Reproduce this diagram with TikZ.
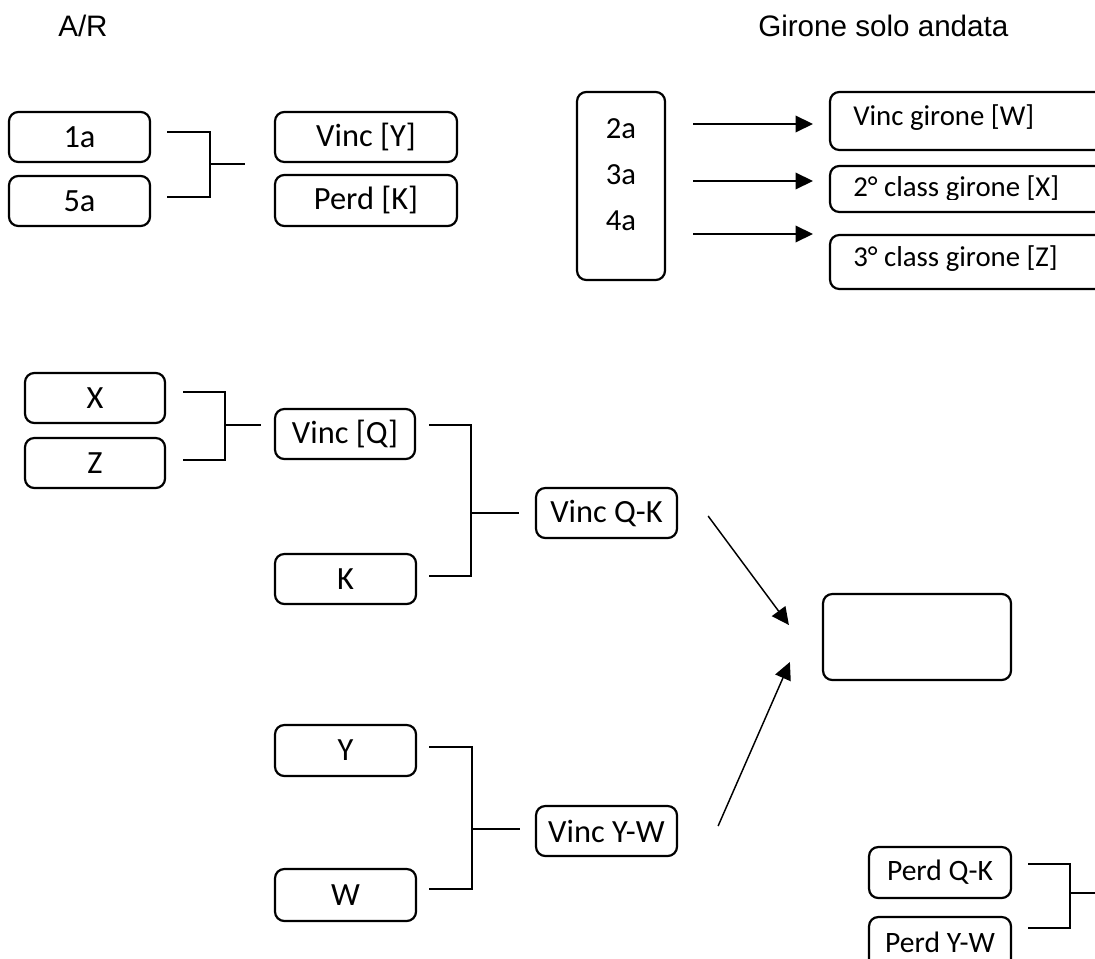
\documentclass[tikz,border=0pt]{standalone}
\usepackage{fontspec}
\setmainfont{Carlito}
\newfontfamily\hdrfont{Liberation Sans}
\usetikzlibrary{arrows.meta,calc}
\newcommand\bx[6]{\node[box, minimum width={(#4-#2)*0.75pt}, minimum height={(#5-#3)*0.75pt}] (#1) at ({(#2+#4)/2},{(#3+#5)/2}) {#6};}
\begin{document}
\begin{tikzpicture}[x=0.75pt,y=-0.75pt,
  box/.style={draw, line width=1.65pt, rounded corners=7pt, inner sep=0pt, font=\fontsize{24.3}{29}\selectfont},
  small/.style={font=\fontsize{22.2}{26}\selectfont},
  txt/.style={inner sep=0pt, font=\fontsize{21.6}{26}\selectfont},
  hdr/.style={anchor=base west, inner sep=0pt, font=\hdrfont\fontsize{22.2}{26}\selectfont},
  link/.style={line width=1.6pt},
  arr/.style={line width=1.1pt, -{Triangle[length=13pt,width=12.5pt]}}]
\useasboundingbox (0,0) rectangle (1095,959);
\clip (0,0) rectangle (1095,959);
% headers
\node[hdr] (hAR) at (58,37) {A/R};
\node[hdr] (hG) at (758,37) {Girone solo andata};
% top left
\bx{a1}{9}{112}{150}{162}{1a}
\bx{a5}{9}{176}{150}{226}{5a}
\bx{vy}{275}{112}{457}{162}{Vinc [Y]}
\bx{pk}{275}{175}{457}{226}{Perd [K]}
\coordinate (j1) at (210,164);
\coordinate (j1e) at (245,164);
\draw[link] (a1.east) ++(16,-5) -| (j1);
\draw[link] (a5.east) ++(16,-4) -| (j1);
\draw[link] (j1) -- (j1e);
% top right
\bx{grp}{577}{92}{665}{280}{}
\node[txt, align=center, font=\fontsize{23}{34.5}\selectfont] (grptxt) at (621,175) {2a\\3a\\4a};
\bx{wb}{830}{92}{1130}{150}{}
\bx{xb}{830}{166}{1130}{212}{}
\bx{zb}{830}{235}{1130}{289}{}
\node[txt, anchor=base west] (wt) at (853,126) {Vinc girone [W]};
\begin{scope}
\clip (830,160) rectangle (1095,200);
\node[txt, anchor=base west] (xt) at (853,197) {2° class girone [X]};
\end{scope}
\node[txt, anchor=base west] (zt) at (853,267) {3° class girone [Z]};
\draw[arr] ($(grp.east)+(27,-62)$) -- ($(wb.west)+(-16,3)$);
\draw[arr] ($(grp.east)+(27,-5)$) -- ($(xb.west)+(-16,-8)$);
\draw[arr] ($(grp.east)+(27,48)$) -- ($(zb.west)+(-16,-28)$);
% middle
\bx{xx}{25}{373}{165}{423}{X}
\bx{zz}{25}{438}{165}{488}{Z}
\bx{vq}{275}{409}{415}{459}{Vinc [Q]}
\bx{kk}{275}{554}{416}{604}{K}
\bx{vqk}{536}{488}{677}{538}{Vinc Q-K}
\coordinate (j2) at (225,425);
\coordinate (j2e) at (261,425);
\draw[link] (xx.east) ++(17,-6) -| (j2);
\draw[link] (zz.east) ++(17,-3) -| (j2);
\draw[link] (j2) -- (j2e);
\coordinate (j3) at (471,513);
\coordinate (j3e) at (519,513);
\draw[link] (vq.east) ++(13,-9) -| (j3);
\draw[link] (kk.east) ++(12,-3) -| (j3);
\draw[link] (j3) -- (j3e);
% bottom
\bx{yy}{275}{725}{416}{776}{Y}
\bx{ww}{275}{869}{416}{921}{W}
\bx{vyw}{536}{806}{677}{856}{Vinc Y-W}
\coordinate (j4) at (472,829);
\coordinate (j4e) at (520,829);
\draw[link] (yy.east) ++(12,-3.5) -| (j4);
\draw[link] (ww.east) ++(12,-6) -| (j4);
\draw[link] (j4) -- (j4e);
% final
\bx{fin}{823}{594}{1011}{680}{}
\draw[arr] ($(vqk.east)+(30,3)$) -- ($(fin.west)+(-33,-12)$);
\draw[arr] ($(vyw.east)+(40,-5)$) -- ($(fin.west)+(-32,25)$);
% losers
\node[box, small, minimum width=106.5pt, minimum height=38.25pt] (pqk) at (940,872.5) {Perd Q-K};
\node[box, small, minimum width=106.5pt, minimum height=38.25pt] (pyw) at (940,942.5) {Perd Y-W};
\coordinate (j5) at (1070,893);
\coordinate (j5e) at (1100,893);
\draw[link] (pqk.east) ++(16,-8.5) -| (j5);
\draw[link] (pyw.east) ++(16,-14.5) -| (j5);
\draw[link] (j5) -- (j5e);
\end{tikzpicture}
\end{document}
